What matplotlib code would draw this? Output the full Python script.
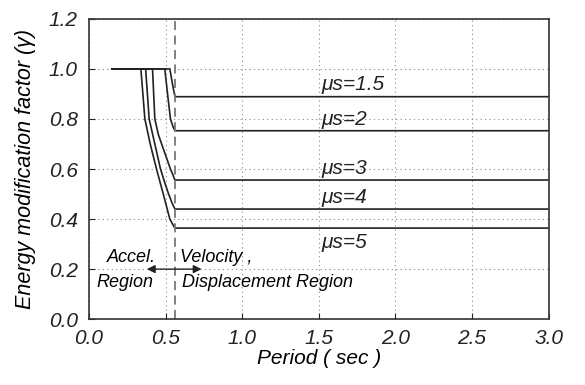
import matplotlib
matplotlib.use('Agg')
import matplotlib.pyplot as plt

plt.rcParams['font.family'] = ['Liberation Sans', 'DejaVu Sans']
plt.rcParams['font.style'] = 'italic'

# Ductility levels and curve points (period, gamma)
mu_labels = ['μs=1.5', 'μs=2', 'μs=3', 'μs=4', 'μs=5']
curve_T = [
    [0.15, 0.528, 0.545, 0.561, 3.0],
    [0.15, 0.495, 0.515, 0.532, 0.548, 0.561, 3.0],
    [0.15, 0.415, 0.430, 0.452, 0.480, 0.506, 0.532, 0.548, 0.561, 3.0],
    [0.15, 0.370, 0.393, 0.430, 0.467, 0.495, 0.520, 0.542, 0.561, 3.0],
    [0.15, 0.339, 0.365, 0.400, 0.441, 0.485, 0.528, 0.546, 0.561, 3.0],
]
curve_g = [
    [1.0, 1.0, 0.94, 0.889, 0.889],
    [1.0, 1.0, 0.89, 0.80, 0.77, 0.753, 0.753],
    [1.0, 1.0, 0.80, 0.74, 0.69, 0.645, 0.60, 0.577, 0.556, 0.556],
    [1.0, 1.0, 0.80, 0.70, 0.60, 0.545, 0.50, 0.465, 0.44, 0.44],
    [1.0, 1.0, 0.80, 0.70, 0.60, 0.50, 0.40, 0.38, 0.364, 0.364],
]
label_x = [1.52, 1.52, 1.52, 1.52, 1.52]
label_y = [0.936, 0.796, 0.604, 0.488, 0.308]
T_boundary = 0.561

fig = plt.figure(figsize=(5.85, 3.85), dpi=100)
ax = fig.add_axes([0.152, 0.171, 0.786, 0.780])

for T, g in zip(curve_T, curve_g):
    ax.plot(T, g, color='#222222', lw=1.2)

ax.axvline(T_boundary, color='#777777', ls=(0, (5, 3)), lw=1.3)

for lab, x, y in zip(mu_labels, label_x, label_y):
    ax.text(x, y, lab, fontsize=15, va='center', ha='left', color='#222222')

# region annotations
ax.annotate('', xy=(0.378, 0.2), xytext=(0.735, 0.2),
            arrowprops=dict(arrowstyle='<|-|>', color='#222222', lw=1.0,
                            mutation_scale=12, shrinkA=0, shrinkB=0))
ax.text(0.44, 0.248, 'Accel.', fontsize=13, ha='right', va='center')
ax.text(0.046, 0.148, 'Region', fontsize=13, ha='left', va='center')
ax.text(0.593, 0.248, 'Velocity ,', fontsize=13, ha='left', va='center')
ax.text(0.606, 0.148, 'Displacement Region', fontsize=13, ha='left', va='center')

ax.set_xlim(0, 3.0)
ax.set_ylim(0, 1.2)
ax.set_xticks([0.0, 0.5, 1.0, 1.5, 2.0, 2.5, 3.0])
ax.set_yticks([0.0, 0.2, 0.4, 0.6, 0.8, 1.0, 1.2])
ax.set_xticklabels(['0.0', '0.5', '1.0', '1.5', '2.0', '2.5', '3.0'])
ax.set_yticklabels(['0.0', '0.2', '0.4', '0.6', '0.8', '1.0', '1.2'])
ax.tick_params(direction='in', length=4, labelsize=15, colors='#222222')
ax.tick_params(axis='x', pad=7)
ax.tick_params(axis='y', pad=8)
ax.grid(True, ls=(0, (1, 3)), color='#888888', lw=0.8)
for s in ax.spines.values():
    s.set_color('#333333')
    s.set_linewidth(1.2)

ax.set_xlabel('Period ( sec )', fontsize=15, labelpad=1)
ax.set_ylabel('Energy modification factor (γ)', fontsize=15.5, labelpad=9)

fig.savefig('out.png', dpi=100)
